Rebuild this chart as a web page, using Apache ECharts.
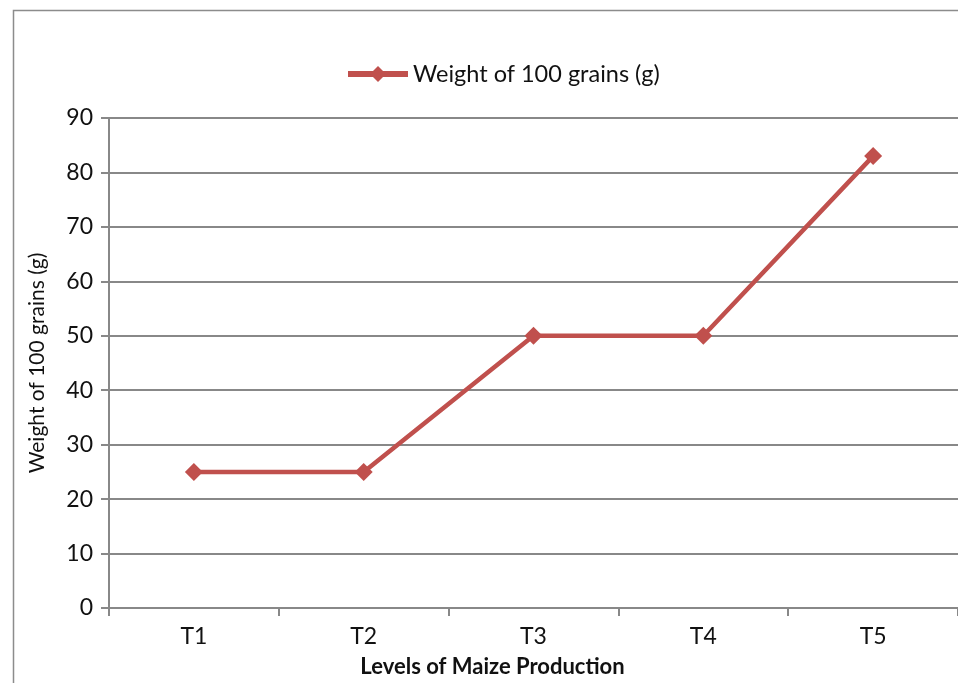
<!DOCTYPE html>
<html><head><meta charset="utf-8">
<script src="https://cdn.jsdelivr.net/npm/echarts@6/dist/echarts.min.js"></script>
<style>html,body{margin:0;padding:0;background:#fff}#c{width:958px;height:683px}</style>
</head><body><div id="c"></div>
<script>
const categories = ['T1','T2','T3','T4','T5'];
const weights = [25, 25, 50, 50, 83];
const seriesName = 'Weight of 100 grains (g)';
const chart = echarts.init(document.getElementById('c'));
const font = 'Lato, "Open Sans", sans-serif';
chart.setOption({
  animation:false,
  textStyle:{fontFamily:font},
  graphic:[{type:'rect',left:11,top:8,shape:{width:1000,height:720},style:{fill:'none',stroke:'#8c8c8c',lineWidth:1.5},silent:true}],
  legend:{top:57,left:340,itemWidth:60,itemHeight:20,itemGap:4,
    lineStyle:{width:6},
    textStyle:{fontSize:23.5,color:'#111',fontFamily:font},data:[seriesName]},
  grid:{left:109,right:0,top:118,bottom:75},
  xAxis:{type:'category',data:categories,boundaryGap:true,
    name:'Levels of Maize Production',nameLocation:'middle',nameGap:48,
    nameTextStyle:{fontSize:22,fontWeight:'bold',color:'#111',fontFamily:font,padding:[0,82,0,0]},
    axisLine:{lineStyle:{color:'#888',width:2}},
    axisTick:{show:true,length:8,lineStyle:{color:'#888',width:2}},
    axisLabel:{fontSize:23,color:'#111',margin:17,fontFamily:font},
    splitLine:{show:false}},
  yAxis:{type:'value',min:0,max:90,interval:10,
    name:seriesName,nameLocation:'middle',nameGap:61,nameRotate:90,
    nameTextStyle:{fontSize:21,color:'#111',fontFamily:font},
    axisLine:{show:true,lineStyle:{color:'#888',width:2}},
    axisTick:{show:true,length:8,lineStyle:{color:'#888',width:2}},
    axisLabel:{fontSize:23,color:'#111',margin:16,fontFamily:font},
    splitLine:{lineStyle:{color:'#888',width:2}}},
  series:[{name:seriesName,type:'line',data:weights,
    symbol:'diamond',symbolSize:18,
    lineStyle:{color:'#C0504D',width:4.5},
    itemStyle:{color:'#C0504D'}}]
});
</script></body></html>
